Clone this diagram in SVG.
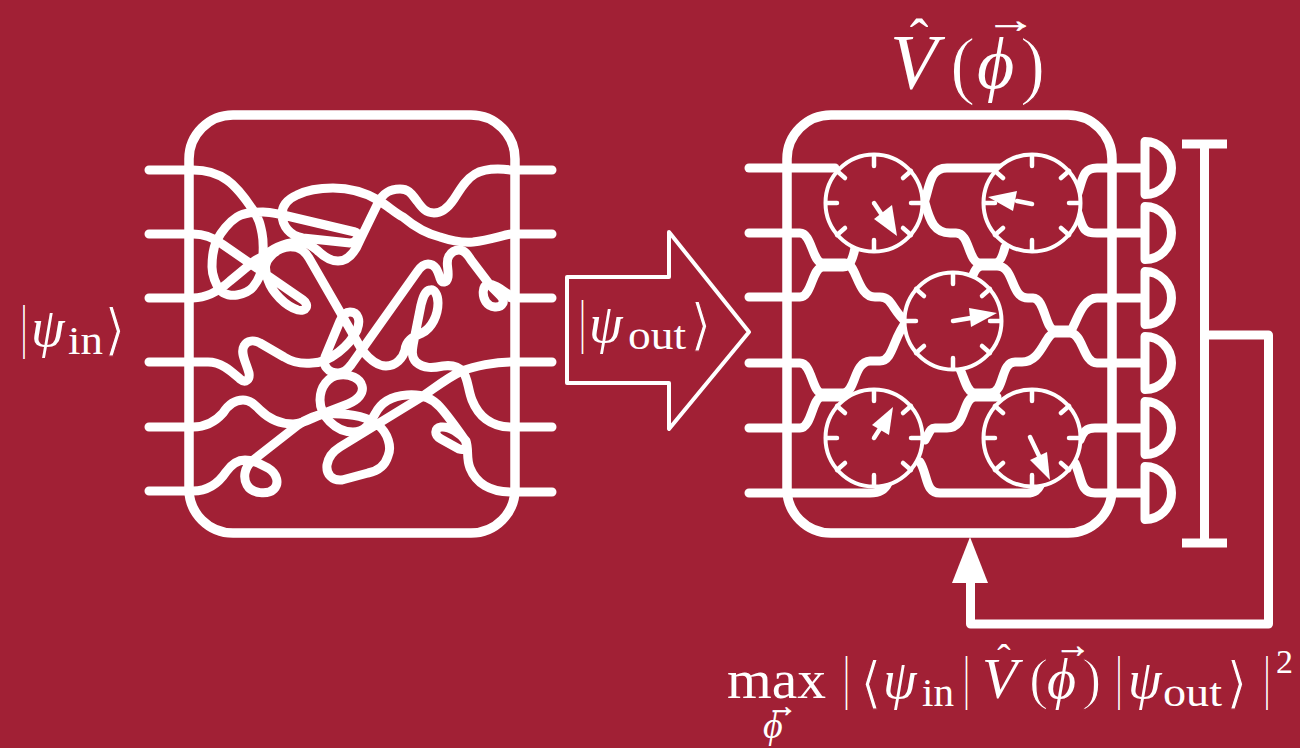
<svg xmlns="http://www.w3.org/2000/svg" width="1300" height="748" viewBox="0 0 1300 748">
<style>
.w{fill:none;stroke:#fff;stroke-width:9;stroke-linecap:round;stroke-linejoin:round}
.box{fill:none;stroke:#fff;stroke-width:9.500}
.wg{fill:none;stroke:#fff;stroke-width:9;stroke-linecap:round;stroke-linejoin:round}
.dc{fill:#a12035;stroke:#fff;stroke-width:4}
.tk{stroke:#fff;stroke-width:4.500;stroke-linecap:round;fill:none}
.needle{stroke:#fff;stroke-width:4.500;stroke-linecap:round;fill:none}
.head{fill:#fff;stroke:none}
.det{fill:none;stroke:#fff;stroke-width:9;stroke-linejoin:round}
.bar{fill:none;stroke:#fff;stroke-width:9}
text{fill:#fff;font-family:"Liberation Serif","DejaVu Serif",serif}
.i{font-style:italic}
.th{stroke:#a12035;stroke-width:1.200}
.bd{stroke:#fff;stroke-width:.8}
</style>
<defs>
<g id="dial">
<circle class="dc" r="48.500"/>
<path class="tk" d="M0,-47V-37M0,47V37M-47,0H-37M47,0H37M-29,-25L-37,-32M29,-25L37,-32M-29,25L-37,32M29,25L37,32"/>
</g>
<path id="d" class="det" d="M1145,-26.500A26.500,26.500 0 0 1 1145,26.500Z"/>
</defs>
<rect width="1300" height="748" fill="#a12035"/>

<g id="box-left"><rect class="box" x="189" y="115" width="326" height="418" rx="44"/></g>
<g id="tangle" class="w">
<path d="M149,170H193C205,170 217,173 227,180S247,201 253,210S260,223 262,233S263,258 262,267S257,282 253,287S242,294 237,295S224,295 220,290S212,275 212,267S213,248 217,240S229,222 237,217S255,212 263,212S277,214 283,215L355,232C360,233 358,243 350,243L303,238C290,236 282,226 282,214C282,205 288,199 297,195C307,190 320,188 333,188C350,188 366,193 378,200C388,206 395,213 403,217C416,228 428,234 440,237C452,241 462,243 473,242C490,240 500,236 511,234H552"/>
<path d="M149,298H193C207,298 220,290 230,281L253,262C258,258 262,257 265,256C270,250 283,243 297,242C307,242 312,246 317,250C323,256 330,261 338,261C350,261 356,250 360,240L378,203C381,197 386,189 400,189C410,189 412,195 417,201C422,208 426,213 434,213C444,213 450,205 454,199C460,190 465,180 475,174C482,170 495,168 511,170H552"/>
<path d="M149,234H193C203,234 214,238 222,244L303,300C310,305 306,312 298,310C285,306 272,292 268,280C264,268 265,262 270,257C276,250 285,246 293,247C300,247 306,253 309,258L362,350C370,360 378,366 386,366C396,366 403,358 405,350C406,341 412,337 422,333C432,328 438,315 438,303C438,294 434,289 430,290C425,291 423,297 421,305L414,340C412,350 411,357 416,362C424,369 433,368 443,366C450,365 458,366 463,372C468,378 468,390 472,400C478,415 490,427 511,427H552"/>
<path d="M149,362H208C222,362 232,372 240,379C246,384 250,379 249,373C246,362 240,353 244,346C247,340 254,340 260,343L284,357C292,362 302,364 312,363C330,363 350,345 357,330C361,320 358,312 350,312C345,312 342,316 340,321L325,357C322,365 328,373 338,373C344,373 348,369 351,365L417,272C421,266 424,264 428,264C436,264 438,272 440,278C442,284 447,283 448,277C449,268 445,262 449,256C452,251 456,250 459,250C465,250 468,255 471,260L490,285C497,293 505,298 503,303C500,309 490,308 486,302C482,296 482,286 488,284C495,284 503,291 511,296"/>
<path d="M511,298H552"/>
<path d="M149,427H193C205,427 215,422 223,413C228,405 235,400 243,400C250,400 254,404 260,410C268,418 278,424 293,424C303,424 312,418 322,414L348,404C358,400 364,393 362,386C360,378 350,374 340,375C328,376 320,387 320,400C320,415 335,432 353,432C365,432 370,423 375,414C381,402 392,396 407,395C420,394 432,398 440,407C448,416 458,430 465,440C468,446 465,451 459,449L441,439C434,435 434,428 441,427C449,426 460,433 466,441C469,450 466,458 470,468C476,483 490,492 511,492H552"/>
<path d="M149,491H193C207,491 218,484 226,472C231,465 237,460 245,460C250,460 254,461 258,463L268,468C278,474 279,484 274,489C268,495 252,494 247,485C243,478 244,468 252,461L298,425C305,420 315,415 325,414C345,413 365,415 378,425C388,433 392,447 388,456C385,466 378,471 368,473L342,480C332,481 326,474 327,465C328,458 332,452 340,447L420,398C435,388 448,377 462,371C475,366 495,362 511,362H552"/>
</g>

<g id="big-arrow"><path d="M567,277H669V232L749,332L669,429V383H567Z" fill="none" stroke="#fff" stroke-width="4" stroke-linejoin="round"/></g>

<g id="box-right"><rect class="box" x="787" y="115" width="325" height="418" rx="44"/></g>
<g id="waveguides" class="wg">
<path d="M749,168H835"/>
<path d="M749,233H800C812,233 812,263 823,263H845C857,263 857,297 875,297H880C892,297 892,310 906,322"/>
<path d="M749,297H800C812,297 812,267 823,267H843C850,267 853,258 855,248"/>
<path d="M749,363H800C812,363 812,393 822,393H843C856,393 853,362 870,361H880C893,361 893,338 906,322"/>
<path d="M749,428H800C812,428 812,397 822,397H848"/>
<path d="M749,493H870C880,493 885,490 888,483"/>
<path d="M925,200C930,185 930,168 947,168H1000"/>
<path d="M925,203C930,222 935,233 950,233H956C970,233 968,263 980,263H995C1000,263 1003,255 1005,247"/>
<path d="M973,275C975,270 977,266 982,266H997C1015,266 1010,298 1028,298H1033C1045,298 1045,330 1055,330H1070C1075,330 1080,298 1097,298H1140"/>
<path d="M1140,363H1097C1083,363 1083,333 1070,333H1055C1045,333 1042,362 1022,362H1015C1000,362 1005,393 990,393H975C967,393 965,380 960,369"/>
<path d="M997,397H975C962,397 967,428 947,428H935C930,428 930,432 925,440"/>
<path d="M920,462C928,475 925,493 940,493H1027C1035,493 1038,490 1041,484"/>
<path d="M1078,193C1083,178 1083,168 1097,168H1140M1078,213C1083,228 1083,233 1097,233H1140"/>
<path d="M1080,440C1083,432 1086,428 1095,428H1140M1075,463C1082,478 1080,493 1095,493H1140"/>
</g>

<g id="dial-1" transform="translate(874,203)"><use href="#dial"/><path class="needle" d="M0,0L10,15"/><path class="head" d="M23,33L0,16L18,2Z"/></g>
<g id="dial-2" transform="translate(1032,203)"><use href="#dial"/><path class="needle" d="M0,1L-15,-2"/><path class="head" d="M-44,-6L-15,-12L-19,8Z"/></g>
<g id="dial-3" transform="translate(953,321)"><use href="#dial"/><path class="needle" d="M0,0L18,-3"/><path class="head" d="M44,-8L16,-13L18,6Z"/></g>
<g id="dial-4" transform="translate(874,438)"><use href="#dial"/><path class="needle" d="M0,0L9,-14"/><path class="head" d="M19,-31L-2,-13L15,-3Z"/></g>
<g id="dial-5" transform="translate(1032,438)"><use href="#dial"/><path class="needle" d="M-2,-1L8,20"/><path class="head" d="M18,42L-2,22L15,14Z"/></g>

<g id="detectors">
<use href="#d" y="168"/><use href="#d" y="233"/><use href="#d" y="298"/><use href="#d" y="363"/><use href="#d" y="428"/><use href="#d" y="493"/>
</g>
<g id="bracket"><path class="bar" d="M1182,144H1227M1182,543H1227M1204.500,144V543"/></g>
<g id="feedback">
<path d="M1204,335H1268.500V624H970.500V580" fill="none" stroke="#fff" stroke-width="9" stroke-linejoin="round"/>
<path class="head" d="M970,537L988,583H952Z"/>
</g>

<g id="label-in">
<text x="20" y="346" font-size="60" transform="translate(11,0) scale(.5,1)">|</text>
<text class="i" x="31" y="346" font-size="54">ψ</text>
<text x="68" y="354" font-size="40" textLength="35" lengthAdjust="spacingAndGlyphs">in</text>
<text class="th" x="104" y="349" font-size="56">⟩</text>
</g>
<g id="label-out">
<text x="577" y="341" font-size="60" transform="translate(291,0) scale(.5,1)">|</text>
<text class="i" x="589" y="342" font-size="54">ψ</text>
<text x="628" y="349" font-size="40" textLength="58" lengthAdjust="spacingAndGlyphs">out</text>
<text class="th" x="690" y="344" font-size="56">⟩</text>
</g>
<g id="label-v">
<text class="i" x="890" y="88" font-size="78">V</text>
<text x="919" y="58" font-size="56" text-anchor="middle">ˆ</text>
<text class="th" x="950" y="90" font-size="76">(</text>
<text class="i" x="977" y="88" font-size="72">ϕ</text>
<text class="bd" x="986" y="32" font-size="36" textLength="50" lengthAdjust="spacingAndGlyphs">→</text>
<text class="th" x="1020" y="90" font-size="76">)</text>
</g>
<g id="label-max">
<text x="727" y="698" font-size="54" textLength="99" lengthAdjust="spacingAndGlyphs">max</text>
<text x="843" y="697" font-size="60" transform="translate(422,0) scale(.5,1)">|</text>
<text class="th" x="860" y="702" font-size="56">⟨</text>
<text class="i" x="883" y="698" font-size="54">ψ</text>
<text x="922" y="706" font-size="40" textLength="32" lengthAdjust="spacingAndGlyphs">in</text>
<text x="963" y="697" font-size="60" transform="translate(482,0) scale(.5,1)">|</text>
<text class="i" x="982" y="698" font-size="58">V</text>
<text x="1004" y="672" font-size="40" text-anchor="middle">ˆ</text>
<text class="th" x="1029" y="698" font-size="58">(</text>
<text class="i" x="1047" y="698" font-size="56">ϕ</text>
<text class="bd" x="1055" y="657" font-size="36">→</text>
<text class="th" x="1082" y="698" font-size="58">)</text>
<text x="1116" y="697" font-size="60" transform="translate(558,0) scale(.5,1)">|</text>
<text class="i" x="1128" y="698" font-size="54">ψ</text>
<text x="1163" y="706" font-size="40" textLength="59" lengthAdjust="spacingAndGlyphs">out</text>
<text class="th" x="1226" y="702" font-size="56">⟩</text>
<text x="1264" y="697" font-size="60" transform="translate(632,0) scale(.5,1)">|</text>
<text x="1276" y="673" font-size="34">2</text>
<text class="i" x="763" y="738" font-size="38">ϕ</text>
<text class="bd" x="767" y="716" font-size="30">→</text>
</g>
</svg>
